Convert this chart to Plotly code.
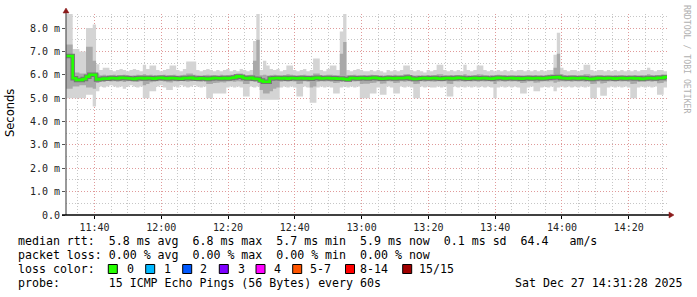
import plotly.graph_objects as go

# ---------------- data (minutes after 11:00, one value per 60 s step) ----------------
START_MIN = 31.467          # 11:31:28
tick_vals = [40, 60, 80, 100, 120, 140, 160, 180, 200]
tick_text = ["11:40", "12:00", "12:20", "12:40", "13:00", "13:20", "13:40", "14:00", "14:20"]
y_tick_vals = [0, 1, 2, 3, 4, 5, 6, 7, 8]
y_tick_text = ["0.0", "1.0 m", "2.0 m", "3.0 m", "4.0 m", "5.0 m", "6.0 m", "7.0 m", "8.0 m"]

rtt_median = [
    6.8, 6.8, 5.85, 5.78, 5.78, 5.82, 5.92, 6.0, 6.0, 5.8,
    5.82, 5.84, 5.83, 5.86, 5.85, 5.84, 5.87, 5.86, 5.85, 5.84,
    5.82, 5.85, 5.86, 5.84, 5.86, 5.85, 5.83, 5.86, 5.87, 5.85,
    5.84, 5.86, 5.85, 5.84, 5.83, 5.86, 5.85, 5.87, 5.84, 5.83,
    5.85, 5.84, 5.82, 5.84, 5.86, 5.85, 5.84, 5.86, 5.84, 5.86,
    5.88, 5.93, 5.92, 5.86, 5.84, 5.87, 5.83, 5.82, 5.75, 5.7,
    5.7, 5.84, 5.85, 5.86, 5.84, 5.86, 5.83, 5.86, 5.85, 5.84,
    5.86, 5.84, 5.85, 5.83, 5.86, 5.87, 5.84, 5.85, 5.86, 5.84,
    5.85, 5.83, 5.84, 5.82, 5.8, 5.86, 5.85, 5.84, 5.86, 5.85,
    5.84, 5.86, 5.87, 5.85, 5.83, 5.84, 5.86, 5.85, 5.84, 5.86,
    5.85, 5.86, 5.88, 5.84, 5.82, 5.83, 5.85, 5.86, 5.84, 5.85,
    5.86, 5.84, 5.83, 5.85, 5.86, 5.84, 5.85, 5.87, 5.86, 5.84,
    5.83, 5.85, 5.86, 5.84, 5.85, 5.86, 5.84, 5.83, 5.85, 5.87,
    5.86, 5.84, 5.85, 5.86, 5.84, 5.85, 5.83, 5.85, 5.86, 5.84,
    5.85, 5.86, 5.84, 5.85, 5.87, 5.88, 5.89, 5.9, 5.86, 5.85,
    5.84, 5.86, 5.85, 5.84, 5.86, 5.85, 5.83, 5.82, 5.84, 5.86,
    5.85, 5.84, 5.86, 5.85, 5.83, 5.85, 5.86, 5.84, 5.85, 5.86,
    5.84, 5.85, 5.82, 5.84, 5.86, 5.85, 5.84, 5.87, 5.86, 5.9,
]

rtt_max = [
    8.65, 8.6, 7.1, 7.1, 7.0, 7.0, 8.0, 8.0, 8.15, 6.45,
    6.2, 6.3, 6.3, 6.2, 6.15, 6.2, 6.25, 6.2, 6.15, 6.2,
    6.25, 6.2, 6.15, 6.43, 6.25, 6.4, 6.4, 6.2, 6.15, 6.2,
    6.25, 6.4, 6.4, 6.2, 6.15, 6.25, 6.57, 6.57, 6.57, 6.2,
    6.15, 6.2, 6.25, 6.2, 6.15, 6.2, 6.15, 6.2, 6.25, 6.15,
    6.2, 6.15, 6.25, 6.2, 6.15, 6.2, 7.45, 8.6, 6.2, 6.6,
    6.4, 6.25, 6.2, 6.25, 6.15, 6.2, 6.4, 6.4, 6.2, 6.15,
    6.2, 6.25, 6.15, 6.2, 6.7, 6.7, 6.2, 6.15, 6.25, 6.4,
    6.4, 6.2, 7.85, 8.6, 6.2, 6.15, 6.2, 6.25, 6.2, 6.15,
    6.15, 6.2, 6.15, 6.2, 6.15, 6.1, 6.2, 6.15, 6.2, 6.15,
    6.2, 6.4, 6.4, 6.2, 6.15, 6.2, 6.15, 6.1, 6.2, 6.15,
    6.2, 6.43, 6.43, 6.2, 6.15, 6.2, 6.15, 6.2, 6.15, 6.43,
    6.2, 6.15, 6.2, 6.4, 6.4, 6.2, 6.15, 6.2, 6.15, 6.2,
    6.15, 6.2, 6.15, 6.2, 6.15, 6.2, 6.2, 6.15, 6.2, 6.15,
    6.2, 6.15, 6.2, 6.15, 6.2, 6.2, 6.86, 7.8, 6.3, 6.2,
    6.15, 6.2, 6.2, 6.15, 6.2, 6.43, 6.43, 6.2, 6.15, 6.2,
    6.2, 6.15, 6.2, 6.15, 6.2, 6.15, 6.2, 6.15, 6.2, 6.15,
    6.2, 6.15, 6.2, 6.2, 6.3, 6.2, 6.15, 6.2, 6.2, 6.15,
]

rtt_min = [
    5.0, 5.0, 5.0, 5.0, 5.0, 5.0, 5.15, 5.15, 4.64, 5.3,
    5.5, 5.45, 5.5, 5.55, 5.5, 5.45, 5.5, 5.4, 5.5, 5.55,
    5.5, 5.45, 5.5, 5.0, 5.0, 5.3, 5.3, 5.5, 5.55, 5.45,
    5.35, 5.35, 5.5, 5.45, 5.55, 5.5, 5.45, 5.5, 5.55, 5.5,
    5.45, 5.5, 5.0, 5.0, 5.2, 5.2, 5.2, 5.2, 5.45, 5.5,
    5.45, 5.5, 5.45, 5.07, 5.07, 5.5, 5.45, 5.5, 4.93, 4.93,
    4.93, 4.93, 4.93, 4.93, 5.45, 5.5, 5.45, 5.5, 5.45, 5.07,
    5.07, 5.5, 5.45, 4.8, 4.8, 5.45, 5.5, 5.45, 5.5, 5.45,
    5.2, 5.2, 5.45, 5.5, 5.45, 5.5, 5.45, 5.5, 5.0, 5.0,
    5.0, 5.2, 5.2, 5.45, 5.15, 5.15, 5.5, 5.45, 5.2, 5.2,
    5.5, 5.45, 5.5, 5.45, 5.0, 5.0, 5.5, 5.45, 5.5, 5.45,
    5.45, 5.5, 5.45, 5.5, 5.07, 5.07, 5.5, 5.45, 5.5, 5.45,
    5.5, 5.45, 5.5, 5.45, 5.5, 5.45, 5.5, 5.45, 5.0, 5.45,
    5.5, 5.45, 5.5, 5.45, 5.5, 5.45, 5.2, 5.2, 5.45, 5.5,
    5.3, 5.3, 5.45, 5.5, 5.45, 5.5, 5.3, 5.45, 5.5, 5.45,
    5.5, 5.45, 5.5, 5.45, 5.5, 5.45, 5.5, 5.0, 5.0, 5.45,
    5.1, 5.1, 5.45, 5.5, 5.45, 5.5, 5.45, 5.5, 5.45, 5.0,
    5.0, 5.45, 5.5, 5.45, 5.5, 5.45, 5.5, 5.15, 5.15, 5.45,
]

rtt_hi = [
    7.3, 7.3, 6.1, 6.1, 6.05, 6.05, 7.2, 7.2, 6.6, 6.05,
    5.98, 6.0, 5.97, 5.99, 6.0, 5.97, 5.98, 6.0, 5.99, 5.97,
    5.98, 6.0, 5.99, 6.02, 5.98, 6.0, 5.98, 5.97, 5.99, 6.0,
    5.98, 5.99, 6.0, 5.97, 5.98, 6.0, 6.05, 6.05, 6.0, 5.98,
    5.97, 5.99, 6.0, 5.98, 5.99, 5.97, 6.0, 5.98, 5.99, 6.0,
    6.02, 6.05, 6.05, 5.99, 5.98, 6.0, 6.6, 7.5, 5.98, 6.0,
    5.97, 5.99, 6.0, 5.98, 5.97, 5.99, 6.02, 6.0, 5.98, 5.97,
    5.99, 6.0, 5.98, 5.97, 6.05, 6.05, 5.99, 5.98, 6.0, 6.0,
    5.99, 5.98, 6.9, 7.4, 5.98, 5.99, 6.0, 5.97, 5.98, 5.99,
    5.98, 6.0, 5.99, 5.97, 5.98, 5.96, 5.99, 5.98, 6.0, 5.97,
    5.98, 6.02, 6.03, 5.99, 5.97, 5.98, 5.97, 5.96, 5.99, 5.98,
    5.99, 6.02, 6.02, 5.98, 5.97, 5.99, 5.98, 5.99, 5.97, 6.02,
    5.98, 5.97, 5.99, 6.02, 6.01, 5.98, 5.97, 5.99, 5.98, 6.0,
    5.98, 5.99, 5.97, 5.98, 5.97, 5.99, 5.98, 5.97, 5.99, 5.98,
    5.99, 5.97, 5.98, 5.97, 6.0, 6.02, 6.3, 6.9, 6.02, 5.99,
    5.98, 5.99, 5.99, 5.97, 5.98, 6.02, 6.02, 5.98, 5.97, 5.99,
    5.99, 5.97, 5.98, 5.97, 5.99, 5.98, 5.99, 5.97, 5.98, 5.97,
    5.99, 5.98, 5.99, 5.98, 6.02, 5.99, 5.98, 5.99, 6.0, 5.98,
]

rtt_lo = [
    5.4, 5.4, 5.5, 5.5, 5.55, 5.55, 5.45, 5.45, 5.4, 5.65,
    5.72, 5.7, 5.73, 5.71, 5.72, 5.7, 5.72, 5.69, 5.72, 5.73,
    5.71, 5.7, 5.72, 5.55, 5.6, 5.68, 5.7, 5.72, 5.73, 5.71,
    5.68, 5.67, 5.72, 5.71, 5.73, 5.72, 5.7, 5.72, 5.73, 5.71,
    5.7, 5.72, 5.6, 5.6, 5.65, 5.66, 5.68, 5.67, 5.71, 5.72,
    5.7, 5.72, 5.71, 5.6, 5.6, 5.72, 5.7, 5.72, 5.35, 5.2,
    5.2, 5.3, 5.4, 5.45, 5.7, 5.72, 5.7, 5.72, 5.71, 5.6,
    5.62, 5.72, 5.7, 5.45, 5.5, 5.7, 5.72, 5.71, 5.72, 5.7,
    5.65, 5.66, 5.7, 5.72, 5.7, 5.72, 5.71, 5.72, 5.6, 5.62,
    5.62, 5.65, 5.66, 5.71, 5.62, 5.63, 5.72, 5.71, 5.65, 5.66,
    5.72, 5.7, 5.72, 5.71, 5.6, 5.62, 5.72, 5.7, 5.72, 5.71,
    5.7, 5.72, 5.71, 5.72, 5.62, 5.6, 5.72, 5.71, 5.72, 5.7,
    5.72, 5.71, 5.72, 5.7, 5.72, 5.71, 5.72, 5.7, 5.6, 5.71,
    5.72, 5.7, 5.72, 5.71, 5.72, 5.7, 5.65, 5.66, 5.71, 5.72,
    5.66, 5.67, 5.71, 5.72, 5.71, 5.72, 5.66, 5.7, 5.72, 5.71,
    5.72, 5.7, 5.72, 5.71, 5.72, 5.7, 5.72, 5.6, 5.62, 5.71,
    5.63, 5.65, 5.71, 5.72, 5.7, 5.72, 5.71, 5.72, 5.7, 5.6,
    5.62, 5.7, 5.72, 5.71, 5.72, 5.7, 5.72, 5.64, 5.65, 5.71,
]

loss_labels = ["0", "1", "2", "3", "4", "5-7", "8-14", "15/15"]
loss_colors = ["#26ff00", "#00b8ff", "#0059ff", "#7e00ff", "#ff00ff", "#ff5500", "#ff0000", "#a00000"]

legend_rtt = "median rtt:  5.8 ms avg  6.8 ms max  5.7 ms min  5.9 ms now  0.1 ms sd  64.4   am/s"
legend_loss = "packet loss: 0.00 % avg  0.00 % max  0.00 % min  0.00 % now"
legend_color = "loss color:"
legend_probe = "probe:       15 ICMP Echo Pings (56 Bytes) every 60s"
legend_date = "Sat Dec 27 14:31:28 2025"
watermark = "RRDTOOL / TOBI OETIKER"

# ---------------- layout constants ----------------
W, H = 697, 297
PL, PR, PT, PB = 66, 667, 14, 215
Y_MAX = 8.6
MONO = "DejaVu Sans Mono"


def px(x):
    return (x - PL) / (PR - PL)


def py(y):
    return (PB - y) / (PB - PT)


def nb(s):
    return s.replace(" ", "\u00a0")


n = len(rtt_median)
t = [START_MIN + i for i in range(n + 1)]


def ext(a):
    return list(a) + [a[-1]]


fig = go.Figure()
step = dict(shape="hv", width=0)
fig.add_trace(go.Scatter(x=t, y=ext(rtt_min), mode="lines", line=step, hoverinfo="skip"))
fig.add_trace(go.Scatter(x=t, y=ext(rtt_max), mode="lines", line=step, fill="tonexty",
                         fillcolor="#d4d4d4", hoverinfo="skip"))
fig.add_trace(go.Scatter(x=t, y=ext(rtt_lo), mode="lines", line=step, hoverinfo="skip"))
fig.add_trace(go.Scatter(x=t, y=ext(rtt_hi), mode="lines", line=step, fill="tonexty",
                         fillcolor="#a9a9a9", hoverinfo="skip"))
fig.add_trace(go.Scatter(x=t, y=ext(rtt_median), mode="lines",
                         line=dict(shape="hv", width=4.5, color="#747474"), hoverinfo="skip"))
fig.add_trace(go.Scatter(x=t, y=ext(rtt_median), mode="lines",
                         line=dict(shape="hv", width=2.6, color="#22ff00"), hoverinfo="skip"))

grid_dash = "1px,2px"
fig.update_layout(
    width=W, height=H,
    margin=dict(l=PL, r=W - PR, t=PT, b=H - PB, pad=0),
    paper_bgcolor="white", plot_bgcolor="white",
    showlegend=False,
    xaxis=dict(
        range=[START_MIN, START_MIN + n], tickmode="array", tickvals=tick_vals, ticktext=tick_text,
        showgrid=True, gridcolor="#e09a9a", griddash=grid_dash, gridwidth=1,
        ticks="outside", ticklen=3, tickcolor="#000", zeroline=False, showline=False,
        tickfont=dict(family=MONO, size=10, color="#222"),
        minor=dict(tickmode="linear", tick0=0, dtick=5, showgrid=True, gridcolor="#c6c6c6",
                   griddash=grid_dash, gridwidth=1, ticks=""),
    ),
    yaxis=dict(
        range=[0, Y_MAX], tickmode="array", tickvals=y_tick_vals, ticktext=y_tick_text,
        showgrid=True, gridcolor="#e09a9a", griddash=grid_dash, gridwidth=1,
        ticks="outside", ticklen=3, tickcolor="#555", zeroline=False, showline=False,
        tickfont=dict(family=MONO, size=10, color="#222"),
        minor=dict(tickmode="linear", tick0=0, dtick=0.5, showgrid=True, gridcolor="#c6c6c6",
                   griddash=grid_dash, gridwidth=1, ticks=""),
    ),
)

shapes = []
# axes with arrows
shapes.append(dict(type="line", xref="paper", yref="paper", x0=px(66), x1=px(66), y0=py(215), y1=py(11),
                   line=dict(color="#555555", width=1.2)))
shapes.append(dict(type="line", xref="paper", yref="paper", x0=px(62), x1=px(669), y0=py(215), y1=py(215),
                   line=dict(color="#000000", width=1.3)))
shapes.append(dict(type="path", xref="paper", yref="paper",
                   path=f"M {px(63)} {py(13)} L {px(69)} {py(13)} L {px(66)} {py(8)} Z",
                   fillcolor="#8b1a1a", line=dict(color="#8b1a1a", width=0.5)))
shapes.append(dict(type="path", xref="paper", yref="paper",
                   path=f"M {px(669)} {py(212)} L {px(669)} {py(218)} L {px(674)} {py(215)} Z",
                   fillcolor="#8b1a1a", line=dict(color="#8b1a1a", width=0.5)))

annotations = []


def txt(s, x, y, size=11.6, color="#000", anchor="left", family=MONO, angle=0):
    annotations.append(dict(text=nb(s), x=px(x), y=py(y), xref="paper", yref="paper",
                            xanchor=anchor, yanchor="middle", showarrow=False, textangle=angle,
                            font=dict(family=family, size=size, color=color)))


txt(legend_rtt, 16, 241)
txt(legend_loss, 16, 255)
txt(legend_color, 16, 269)
txt(legend_probe, 16, 283)
txt(legend_date, 513, 283)

box_x = [108.3, 145.7, 182.7, 219.3, 256.0, 292.7, 345.5, 402.7]
label_x = [125.0, 161.7, 198.3, 236.0, 271.7, 308.3, 358.3, 417.3]
for bx, lx, lab, col in zip(box_x, label_x, loss_labels, loss_colors):
    shapes.append(dict(type="rect", xref="paper", yref="paper",
                       x0=px(bx), x1=px(bx + 9), y0=py(273.5), y1=py(264.5),
                       fillcolor=col, line=dict(color="#000", width=1)))
    txt(lab, lx, 269)

txt("Seconds", 10, 113, size=11.5, family="DejaVu Sans", angle=-90, anchor="center")
txt(watermark, 687, 59, size=8.2, color="#b0b0b0", angle=90, anchor="center")

fig.update_layout(shapes=shapes, annotations=annotations)
fig.write_html("out.html", config={"displayModeBar": False})
